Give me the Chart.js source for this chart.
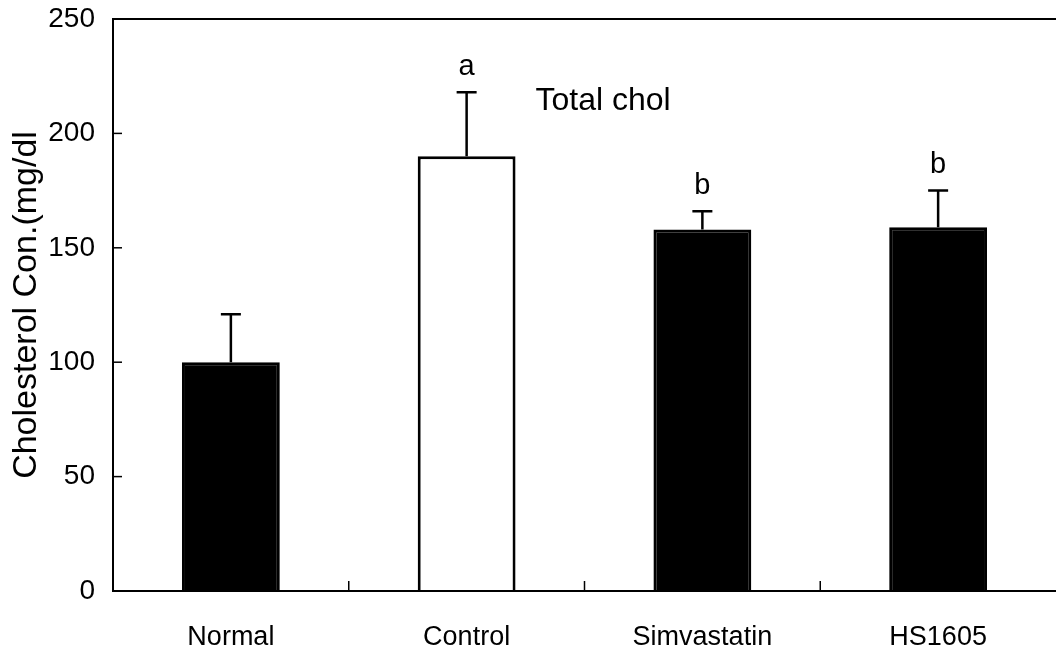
<!DOCTYPE html>
<html>
<head>
<meta charset="utf-8">
<script src="https://cdn.jsdelivr.net/npm/chart.js@4.4.1/dist/chart.umd.min.js"></script>
<style>
  html,body{margin:0;padding:0;background:#fff}
  #wrap{width:1057px;height:658px;position:relative}
</style>
</head>
<body>
<div id="wrap"><canvas id="chol"></canvas></div>
<script>
  // values
  const categories = ['Normal', 'Control', 'Simvastatin', 'HS1605'];
  const means = [100, 190, 158, 159];
  const errors = [21, 28, 8, 16];
  const letters = ['', 'a', 'b', 'b'];
  const barColors = ['#000', '#fff', '#000', '#000'];
  const yTicks = [0, 50, 100, 150, 200, 250];
  const yTitle = 'Cholesterol Con.(mg/dl';
  const panelLabel = 'Total chol';

  const SANS = "'Liberation Sans', Arial, sans-serif";

  const decor = {
    id: 'decor',
    afterDatasetsDraw(chart){
      const ctx = chart.ctx, a = chart.chartArea;
      const x = chart.scales.x, y = chart.scales.y;
      ctx.save();
      ctx.strokeStyle = '#000';
      ctx.fillStyle = '#000';

      // frame (left, top, bottom)
      ctx.lineWidth = 2;
      ctx.beginPath();
      ctx.moveTo(a.right, a.top); ctx.lineTo(a.left, a.top);
      ctx.lineTo(a.left, a.bottom); ctx.lineTo(a.right, a.bottom);
      ctx.stroke();

      // inward ticks
      ctx.lineWidth = 1.5;
      yTicks.forEach(v=>{
        const py = y.getPixelForValue(v);
        ctx.beginPath(); ctx.moveTo(a.left, py); ctx.lineTo(a.left+9, py); ctx.stroke();
      });
      for(let i=1;i<categories.length;i++){
        const px = (x.getPixelForValue(i-1) + x.getPixelForValue(i))/2;
        ctx.beginPath(); ctx.moveTo(px, a.bottom); ctx.lineTo(px, a.bottom-10); ctx.stroke();
      }

      // error bars (upper only) and letters
      ctx.lineWidth = 2.5;
      ctx.font = '29px ' + SANS;
      ctx.textAlign = 'center';
      ctx.textBaseline = 'bottom';
      means.forEach((m,i)=>{
        const px = x.getPixelForValue(i);
        const top = y.getPixelForValue(m);
        const cap = y.getPixelForValue(m + errors[i]);
        ctx.beginPath();
        ctx.moveTo(px, top); ctx.lineTo(px, cap);
        ctx.moveTo(px-10, cap); ctx.lineTo(px+10, cap);
        ctx.stroke();
        if(letters[i]) ctx.fillText(letters[i], px, cap - 11);
      });

      // panel label
      ctx.font = '32px ' + SANS;
      ctx.textAlign = 'left';
      ctx.textBaseline = 'middle';
      ctx.fillText(panelLabel, a.left + (a.right-a.left)*0.448, y.getPixelForValue(214));
      ctx.restore();
    }
  };

  new Chart(document.getElementById('chol'), {
    type: 'bar',
    data: {
      labels: categories,
      datasets: [{
        data: means,
        backgroundColor: barColors,
        borderColor: '#000',
        borderWidth: 3,
        barPercentage: 0.415,
        categoryPercentage: 1
      }]
    },
    options: {
      responsive: true,
      maintainAspectRatio: false,
      animation: false,
      layout: { padding: { top: 19, right: 1, left: 0, bottom: 0 } },
      plugins: { legend: { display: false }, tooltip: { enabled: false } },
      scales: {
        x: {
          offset: true,
          grid: { display: false, drawTicks: false },
          border: { display: false },
          ticks: { color: '#000', padding: 30, font: { family: SANS, size: 27 } },
          afterFit(s){ s.height = 67; s.paddingLeft = 0; s.paddingRight = 0; }
        },
        y: {
          min: 0, max: 250,
          grid: { display: false, drawTicks: false },
          border: { display: false },
          ticks: { stepSize: 50, color: '#000', padding: 18, font: { family: SANS, size: 28 } },
          title: { display: true, text: yTitle, color: '#000', padding: { top: 6 },
                   font: { family: SANS, size: 34 } },
          afterBuildTicks(s){ s.ticks = yTicks.map(v=>({value:v})); },
          afterFit(s){ s.width = 113; s.paddingTop = 0; s.paddingBottom = 0; }
        }
      }
    },
    plugins: [decor]
  });
</script>
</body>
</html>
